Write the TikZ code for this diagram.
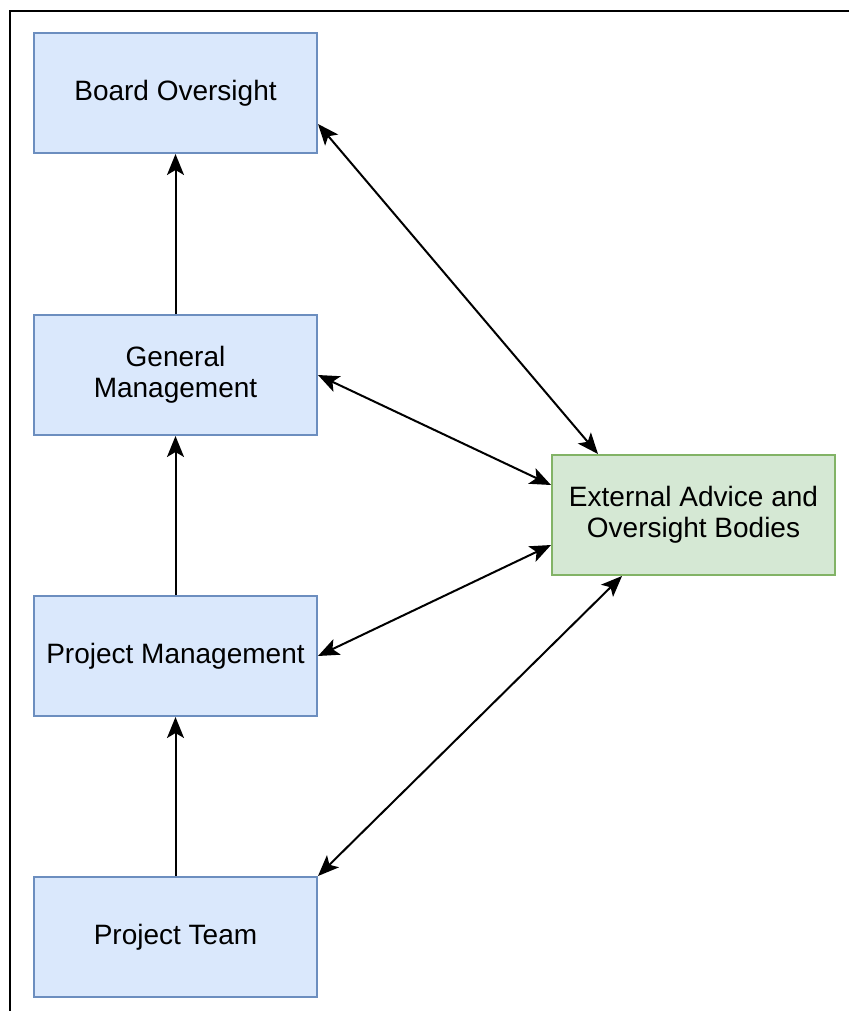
\documentclass[tikz,border=0pt]{standalone}
\usepackage{fontspec}
\setmainfont{Liberation Sans}
\usetikzlibrary{arrows.meta}
\definecolor{bluefill}{HTML}{DAE8FC}
\definecolor{bluedraw}{HTML}{6C8EBF}
\definecolor{greenfill}{HTML}{D5E8D4}
\definecolor{greendraw}{HTML}{82B366}
\begin{document}
\begin{tikzpicture}[x=1pt,y=-1pt,
  box/.style={draw=bluedraw,fill=bluefill,line width=2pt,minimum width=283pt,
    minimum height=120pt,inner sep=0pt,align=center,
    font=\fontsize{28}{31}\selectfont},
  extbox/.style={box,draw=greendraw,fill=greenfill},
  link/.style={line width=2pt,-{Stealth[length=21pt,width=17pt,inset=5pt]}},
  twoway/.style={line width=2pt,{Stealth[length=21pt,width=17pt,inset=5pt]}-{Stealth[length=21pt,width=17pt,inset=5pt]}}]
  \useasboundingbox (0,0) rectangle (849,1011);
  % frame lines
  \draw[line width=2pt] (849,11) -- (10,11) -- (10,1011);
  % hierarchy
  \node[box] (board) at (175.5,93) {Board Oversight};
  \node[box] (gm) at (175.5,375) {General\\Management};
  \node[box] (pm) at (175.5,656) {Project Management};
  \node[box] (team) at (175.5,937) {Project Team};
  \node[extbox] (ext) at (693.5,515) {External Advice and\\Oversight Bodies};
  % reporting lines
  \draw[link] (team.north) -- (pm.south);
  \draw[link] (pm.north) -- (gm.south);
  \draw[link] (gm.north) -- (board.south);
  % external links
  \draw[twoway] ([yshift=-31pt]board.east) -- ([xshift=-95.5pt]ext.north);
  \draw[twoway] (gm.east) -- ([yshift=30pt]ext.west);
  \draw[twoway] (pm.east) -- ([yshift=-30pt]ext.west);
  \draw[twoway] (team.north east) -- ([xshift=-71.5pt]ext.south);
\end{tikzpicture}
\end{document}
